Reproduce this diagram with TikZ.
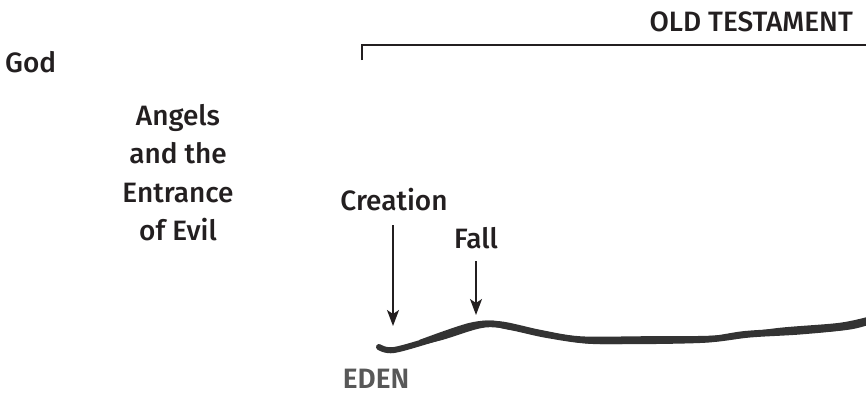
\documentclass[tikz,border=0pt]{standalone}
\usepackage{fontspec}
\setmainfont{Fira Sans}[UprightFont={* Medium},BoldFont={* SemiBold}]
\usetikzlibrary{arrows.meta}
\definecolor{ink}{HTML}{231F20}
\definecolor{brush}{HTML}{333333}
\definecolor{edengray}{HTML}{585858}
\tikzset{
  lbl/.style={font=\fontsize{28}{34}\selectfont, text=ink, inner sep=0pt},
  ptr/.style={draw=ink, line width=1.5pt, -{Stealth[length=16pt,width=12pt,inset=4pt]}},
  brushline/.style={draw=brush, line cap=round, line join=round},
}
\begin{document}
\begin{tikzpicture}[x=1pt,y=-1pt]
\useasboundingbox[fill=white] (0,0) rectangle (866,396);
% labels
\node[lbl, anchor=base east] (ot) at (853,32) {OLD TESTAMENT};
\node[lbl, anchor=base west] (god) at (5,72) {God};
\node[lbl, anchor=base] (a1) at (178,125) {Angels};
\node[lbl, anchor=base] (a2) at (178,163) {and the};
\node[lbl, anchor=base] (a3) at (178,202) {Entrance};
\node[lbl, anchor=base] (a4) at (178,240) {of Evil};
\node[lbl, anchor=base] (creation) at (394,210) {Creation};
\node[lbl, anchor=base] (fall) at (476,248) {Fall};
\node[lbl, anchor=base, font=\bfseries\fontsize{28}{34}\selectfont, text=edengray] (eden) at (376,388) {EDEN};
% bracket
\coordinate (bl) at (362,60);
\coordinate (bc) at (362,45);
\coordinate (br) at (870,45);
\draw[ink, line width=1.6pt] (bl) -- (bc) -- (br);
% arrows
\coordinate (ctop) at (393,225);
\coordinate (ctip) at (393,326);
\coordinate (ftop) at (476,261);
\coordinate (ftip) at (476,315);
\draw[ptr] (ctop) -- (ctip);
\draw[ptr] (ftop) -- (ftip);
% brush line
\draw[brushline, line width=6pt]
  plot[smooth, tension=0.55] coordinates {(379,347) (394,350) (437,338) (483,324) (510,327) (547,335) (593,341) (660,340) (710,339) (745,334) (793,331) (843,327) (872,319)};
\draw[brushline, line width=3pt]
  plot[smooth, tension=0.55] coordinates {(400,348) (440,339) (485,326) (520,330) (560,338) (600,342.5) (700,341.5) (750,336) (800,333) (850,328) (872,322)};
\draw[brushline, line width=2.5pt]
  plot[smooth, tension=0.55] coordinates {(420,341) (470,324) (500,322.5) (540,331) (580,337.5) (640,337.5) (720,336.5) (780,329) (840,324) (872,317)};
\end{tikzpicture}
\end{document}
